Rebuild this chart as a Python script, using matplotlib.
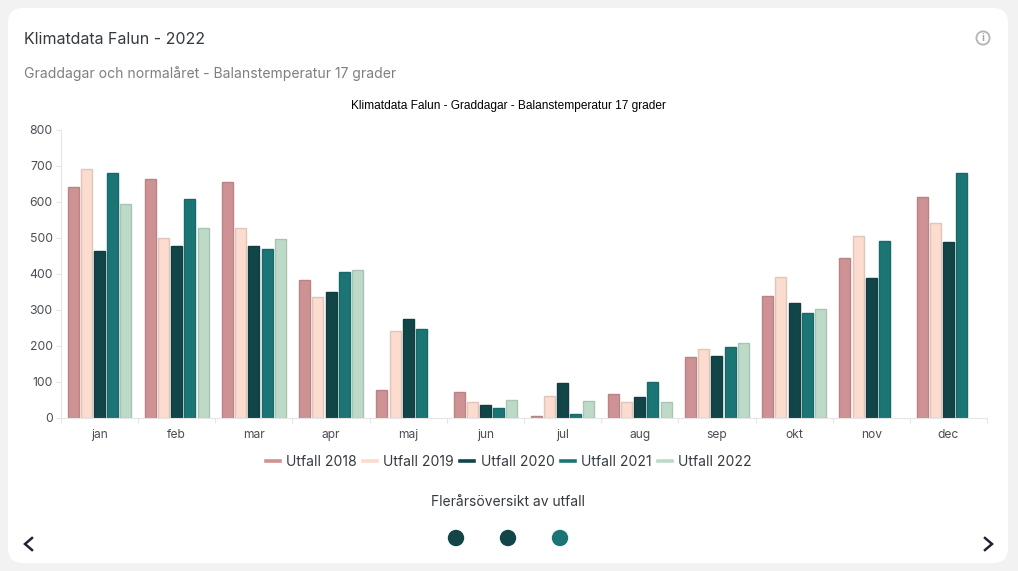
import matplotlib
matplotlib.use('Agg')
import matplotlib.pyplot as plt
from matplotlib.lines import Line2D
from matplotlib.patches import FancyBboxPatch, Circle
import numpy as np

plt.rcParams['font.family'] = ['Inter', 'DejaVu Sans']

months = ['jan', 'feb', 'mar', 'apr', 'maj', 'jun', 'jul', 'aug', 'sep', 'okt', 'nov', 'dec']
utfall_2018 = [642, 664, 654, 382, 76, 71, 4, 65, 168, 337, 445, 613]
utfall_2019 = [692, 499, 528, 335, 242, 43, 60, 43, 192, 392, 506, 540]
utfall_2020 = [463, 476, 478, 350, 273, 35, 95, 56, 170, 318, 388, 487]
utfall_2021 = [680, 607, 470, 406, 245, 26, 10, 98, 196, 290, 491, 680]
utfall_2022 = [593, 528, 498, 410, None, 48, 45, 42, 208, 301, None, None]
series = [utfall_2018, utfall_2019, utfall_2020, utfall_2021, utfall_2022]
labels = ['Utfall 2018', 'Utfall 2019', 'Utfall 2020', 'Utfall 2021', 'Utfall 2022']
fills = ['#cf9294', '#fbdccf', '#124548', '#1c7575', '#bddac8']
edges = ['#b98386', '#e0c6ba', '#103e41', '#196969', '#a9c4b3']
dots = ['#124548', '#124548', '#1c7575']

W, H = 1018, 571
fig = plt.figure(figsize=(W / 100, H / 100), dpi=100, facecolor='#f2f2f2')

# bakgrund i pixlar, y nedat
bg = fig.add_axes([0, 0, 1, 1])
bg.set_xlim(0, W)
bg.set_ylim(H, 0)
bg.axis('off')
bg.add_patch(FancyBboxPatch((8, 8), 1000, 555, boxstyle='round,pad=0,rounding_size=15',
                            fc='white', ec='none'))

bg.text(24, 39.5, 'Klimatdata Falun - 2022', fontsize=11.5, color='#343a40', va='center')
bg.text(24, 74, 'Graddagar och normalåret - Balanstemperatur 17 grader', fontsize=10.05,
        color='#7c7f83', va='center')
bg.text(508.5, 105.5, 'Klimatdata Falun - Graddagar - Balanstemperatur 17 grader', fontsize=8.6,
        family='Liberation Sans', color='black', ha='center', va='center')
bg.text(508, 502.5, 'Flerårsöversikt av utfall', fontsize=10, color='#343a40', ha='center', va='center')

# info-ikon
bg.add_patch(Circle((983, 38), 6.6, fc='none', ec='#b4b4b4', lw=1.3))
bg.text(983, 38, 'i', fontsize=7.5, color='#a8a8a8', ha='center', va='center', fontweight='bold')

# pilar
bg.plot([32, 25, 32], [538, 544, 550], color='#1c2530', lw=1.8, solid_joinstyle='miter')
bg.plot([985, 992, 985], [538, 544, 550], color='#1c2530', lw=1.8, solid_joinstyle='miter')

for cx, c in zip([456, 508, 560], dots):
    bg.add_patch(Circle((cx, 538), 8.2, fc=c, ec='none'))

# diagram
ax = fig.add_axes([61 / W, 1 - 417.5 / H, (987 - 61) / W, (417.5 - 130) / H])
ax.patch.set_alpha(0)
x = np.arange(len(months))
step = 0.171
width = 0.143
for i, vals in enumerate(series):
    xs = [p + (i - 2) * step for p, v in zip(x, vals) if v is not None]
    ys = [v for v in vals if v is not None]
    ax.bar(xs, ys, width=width, color=fills[i], edgecolor=edges[i], linewidth=1.0)

ax.set_xlim(-0.5, 11.5)
ax.set_ylim(0, 800)
ax.set_yticks(range(0, 801, 100))
ax.set_xticks(x)
ax.set_xticklabels(months)
ax.set_xticks(np.arange(-0.5, 12, 1), minor=True)
ax.tick_params(axis='x', which='major', length=0, pad=8.5, labelsize=8.7, labelcolor='#4a4f55')
ax.tick_params(axis='x', which='minor', length=3.5, color='#e6e6e6', width=0.8)
ax.tick_params(axis='y', length=3.5, color='#e6e6e6', width=0.8, pad=2.5, labelsize=8.8, labelcolor='#4a4f55')
for s in ['top', 'right']:
    ax.spines[s].set_visible(False)
for s in ['left', 'bottom']:
    ax.spines[s].set_color('#e6e6e6')
    ax.spines[s].set_linewidth(0.8)

handles = [Line2D([0], [0], color=c, lw=2.6) for c in fills]
ax.legend(handles, labels, ncol=5, frameon=False, loc='center', fontsize=10.05, labelcolor='#343a40',
          bbox_to_anchor=(0.4835, -0.155), handlelength=1.0, handletextpad=0.45, columnspacing=0.45,
          borderaxespad=0, borderpad=0)

fig.savefig('out.png', dpi=100, facecolor=fig.get_facecolor())
